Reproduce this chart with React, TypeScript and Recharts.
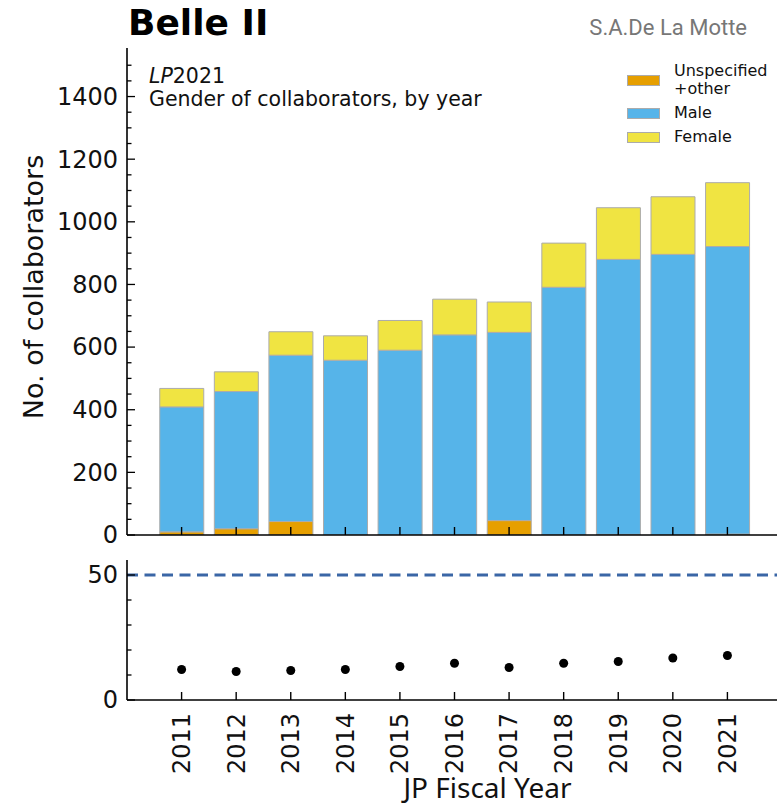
import React from "react";
import {
  BarChart,
  Bar,
  XAxis,
  YAxis,
  Legend,
  ComposedChart,
  Line,
  ReferenceLine,
  Label,
} from "recharts";

// JP fiscal years and head counts
const years = ["2011", "2012", "2013", "2014", "2015", "2016", "2017", "2018", "2019", "2020", "2021"];
const unspecified = [10, 20, 43, 0, 0, 0, 46, 0, 2, 0, 3];
const male = [399, 438, 531, 558, 590, 639, 601, 791, 878, 896, 918];
const female = [59, 63, 75, 78, 95, 114, 97, 141, 165, 184, 204];

// share of women (%) in the lower panel
const pctWomen = [12.2, 11.4, 11.8, 12.2, 13.4, 14.7, 13.0, 14.7, 15.4, 16.8, 17.8];

const countTicks = [0, 50, 100, 150, 200, 250, 300, 350, 400, 450, 500, 550, 600, 650, 700, 750, 800, 850, 900, 950, 1000, 1050, 1100, 1150, 1200, 1250, 1300, 1350, 1400, 1450, 1500];
const countLabels = [0, 200, 400, 600, 800, 1000, 1200, 1400];
const pctTicks = [0, 10, 20, 30, 40, 50];
const pctLabels = [0, 50];
const parity = 50;

const seriesNames = ["Unspecified\n+other", "Male", "Female"];

const COLORS = {
  unspecified: "#E69F00",
  male: "#56B4E9",
  female: "#F0E442",
  edge: "#ababab",
  parity: "#3a66a6",
};

const DEJAVU = "'DejaVu Sans', sans-serif";
const TICK_FONT = 24;

const countRows = years.map((year, i) => ({
  year,
  unspecified: unspecified[i],
  male: male[i],
  female: female[i],
}));

const pctRows = years.map((year, i) => ({ year, pct: pctWomen[i] }));

function CountTick(props: any) {
  const { x, y, payload } = props;
  const v = payload.value;
  const major = v % 200 === 0;
  const axisX = x + 9;
  return (
    <g>
      <line x1={axisX} x2={axisX + (major ? 8 : 4.5)} y1={y} y2={y} stroke="#000" strokeWidth={1.3} />
      {countLabels.includes(v) && (
        <text x={x} y={y} dy="0.35em" textAnchor="end" fontSize={TICK_FONT} fontFamily={DEJAVU} fill="#111">
          {v}
        </text>
      )}
    </g>
  );
}

function PctTick(props: any) {
  const { x, y, payload } = props;
  const v = payload.value;
  const axisX = x + 9;
  return (
    <g>
      <line x1={axisX} x2={axisX + (pctLabels.includes(v) ? 8 : 4.5)} y1={y} y2={y} stroke="#000" strokeWidth={1.3} />
      {pctLabels.includes(v) && (
        <text x={x} y={y} dy="0.35em" textAnchor="end" fontSize={TICK_FONT} fontFamily={DEJAVU} fill="#111">
          {v}
        </text>
      )}
    </g>
  );
}

function XTickMark(props: any) {
  const { x, y } = props;
  return <line x1={x} x2={x} y1={y} y2={y - 8} stroke="#000" strokeWidth={1.4} />;
}

function YearTick(props: any) {
  const { x, y, payload } = props;
  const ty = y + 13;
  return (
    <g>
      <line x1={x} x2={x} y1={y} y2={y - 8} stroke="#000" strokeWidth={1.4} />
      <text
        x={x}
        y={ty}
        dy="0.35em"
        textAnchor="end"
        transform={`rotate(-90 ${x} ${ty})`}
        fontSize={TICK_FONT}
        fontFamily={DEJAVU}
        fill="#111"
      >
        {payload.value}
      </text>
    </g>
  );
}

function LegendBox(props: any) {
  const items = [...(props.payload || [])].sort(
    (a: any, b: any) => seriesNames.indexOf(a.value) - seriesNames.indexOf(b.value)
  );
  return (
    <div style={{ display: "flex", flexDirection: "column", gap: 6 }}>
      {items.map((item: any) => (
        <div key={item.value} style={{ display: "flex", alignItems: "center" }}>
          <span
            style={{
              width: 33,
              height: 11,
              background: item.color,
              border: `1px solid ${COLORS.edge}`,
              boxSizing: "border-box",
              flex: "none",
            }}
          />
          <span style={{ marginLeft: 14, fontSize: 16, lineHeight: "18px", fontFamily: DEJAVU, color: "#111" }}>
            {String(item.value)
              .split("\n")
              .map((line: string) => (
                <div key={line}>{line}</div>
              ))}
          </span>
        </div>
      ))}
    </div>
  );
}

const axisLabel = (text: string, baselineX: number, cy: number) => () =>
  (
    <text
      x={baselineX}
      y={cy}
      textAnchor="middle"
      transform={`rotate(-90 ${baselineX} ${cy})`}
      fontSize={27}
      fontFamily={DEJAVU}
      fill="#111"
    >
      {text}
    </text>
  );

function FiscalYearLabel(props: any) {
  const vb = props.viewBox || { x: 127, y: 700, width: 655, height: 103 };
  return (
    <text
      x={vb.x + vb.width / 2 + 33}
      y={vb.y + vb.height - 5}
      textAnchor="middle"
      fontSize={28}
      fontFamily="'Noto Sans', sans-serif"
      fill="#111"
    >
      JP Fiscal Year
    </text>
  );
}

const spine = { stroke: "#000", strokeWidth: 1.6 };

export default function App() {
  return (
    <div
      style={{
        position: "absolute",
        left: 0,
        top: 0,
        width: 777,
        height: 803,
        overflow: "hidden",
        background: "#fff",
      }}
    >
      <div style={{ position: "absolute", left: 0, top: 0 }}>
        <BarChart
          width={800}
          height={557}
          data={countRows}
          margin={{ top: 48, right: 18, bottom: 0, left: 0 }}
          barCategoryGap="10%"
        >
          <Bar dataKey="unspecified" stackId="a" name={seriesNames[0]} fill={COLORS.unspecified} stroke={COLORS.edge} strokeWidth={1} isAnimationActive={false} />
          <Bar dataKey="male" stackId="a" name={seriesNames[1]} fill={COLORS.male} stroke={COLORS.edge} strokeWidth={1} isAnimationActive={false} />
          <Bar dataKey="female" stackId="a" name={seriesNames[2]} fill={COLORS.female} stroke={COLORS.edge} strokeWidth={1} isAnimationActive={false} />
          <XAxis
            dataKey="year"
            padding={{ left: 27.3, right: 27.3 }}
            height={22}
            tickSize={0}
            tickMargin={0}
            interval={0}
            tickLine={false}
            tick={<XTickMark />}
            axisLine={spine}
          />
          <XAxis xAxisId="top" orientation="top" dataKey="year" height={0} tick={false} tickLine={false} axisLine={spine} />
          <YAxis
            type="number"
            domain={[0, 1555]}
            allowDataOverflow
            ticks={countTicks}
            interval={0}
            width={127}
            tickSize={0}
            tickMargin={9}
            tickLine={false}
            tick={<CountTick />}
            axisLine={spine}
          >
            <Label content={axisLabel("No. of collaborators", 43, 287)} />
          </YAxis>
          <Legend
            layout="vertical"
            align="center"
            verticalAlign="middle"
            content={<LegendBox />}
            wrapperStyle={{ top: 62, left: 627, right: "auto", bottom: "auto", width: 150 }}
          />
        </BarChart>
      </div>

      <div style={{ position: "absolute", left: 0, top: 540 }}>
        <ComposedChart width={800} height={263} data={pctRows} margin={{ top: 20, right: 18, bottom: 0, left: 0 }}>
          <ReferenceLine y={parity} stroke={COLORS.parity} strokeWidth={3} strokeDasharray="11 6.5" />
          <Line
            dataKey="pct"
            stroke="none"
            isAnimationActive={false}
            dot={{ r: 4.5, fill: "#000", stroke: "none" }}
            activeDot={false}
          />
          <XAxis
            dataKey="year"
            scale="band"
            padding={{ left: 27.3, right: 27.3 }}
            height={103}
            tickSize={0}
            tickMargin={0}
            interval={0}
            tickLine={false}
            tick={<YearTick />}
            axisLine={spine}
          >
            <Label content={<FiscalYearLabel />} />
          </XAxis>
          <XAxis xAxisId="top" orientation="top" dataKey="year" scale="band" height={0} tick={false} tickLine={false} axisLine={{ stroke: "#000", strokeWidth: 1.3 }} />
          <YAxis
            type="number"
            domain={[0, 56]}
            allowDataOverflow
            ticks={pctTicks}
            interval={0}
            width={127}
            tickSize={0}
            tickMargin={9}
            tickLine={false}
            tick={<PctTick />}
            axisLine={spine}
          >
            <Label content={axisLabel("%Women", 74, 631)} />
          </YAxis>
        </ComposedChart>
      </div>

      <svg
        width={777}
        height={803}
        style={{ position: "absolute", left: 0, top: 0, pointerEvents: "none" }}
      >
        <text x={128} y={35} fontSize={36} fontWeight="bold" fontFamily={DEJAVU} fill="#000">
          Belle II
        </text>
        <text x={747} y={35} textAnchor="end" fontSize={22} fontFamily="Roboto, sans-serif" fill="#777">
          S.A.De La Motte
        </text>
        <text x={149} y={83} fontSize={20.5} fontFamily={DEJAVU} fill="#111">
          <tspan fontStyle="italic">LP</tspan>2021
        </text>
        <text x={149} y={106} fontSize={20.5} fontFamily={DEJAVU} fill="#111">
          Gender of collaborators, by year
        </text>
      </svg>
    </div>
  );
}
